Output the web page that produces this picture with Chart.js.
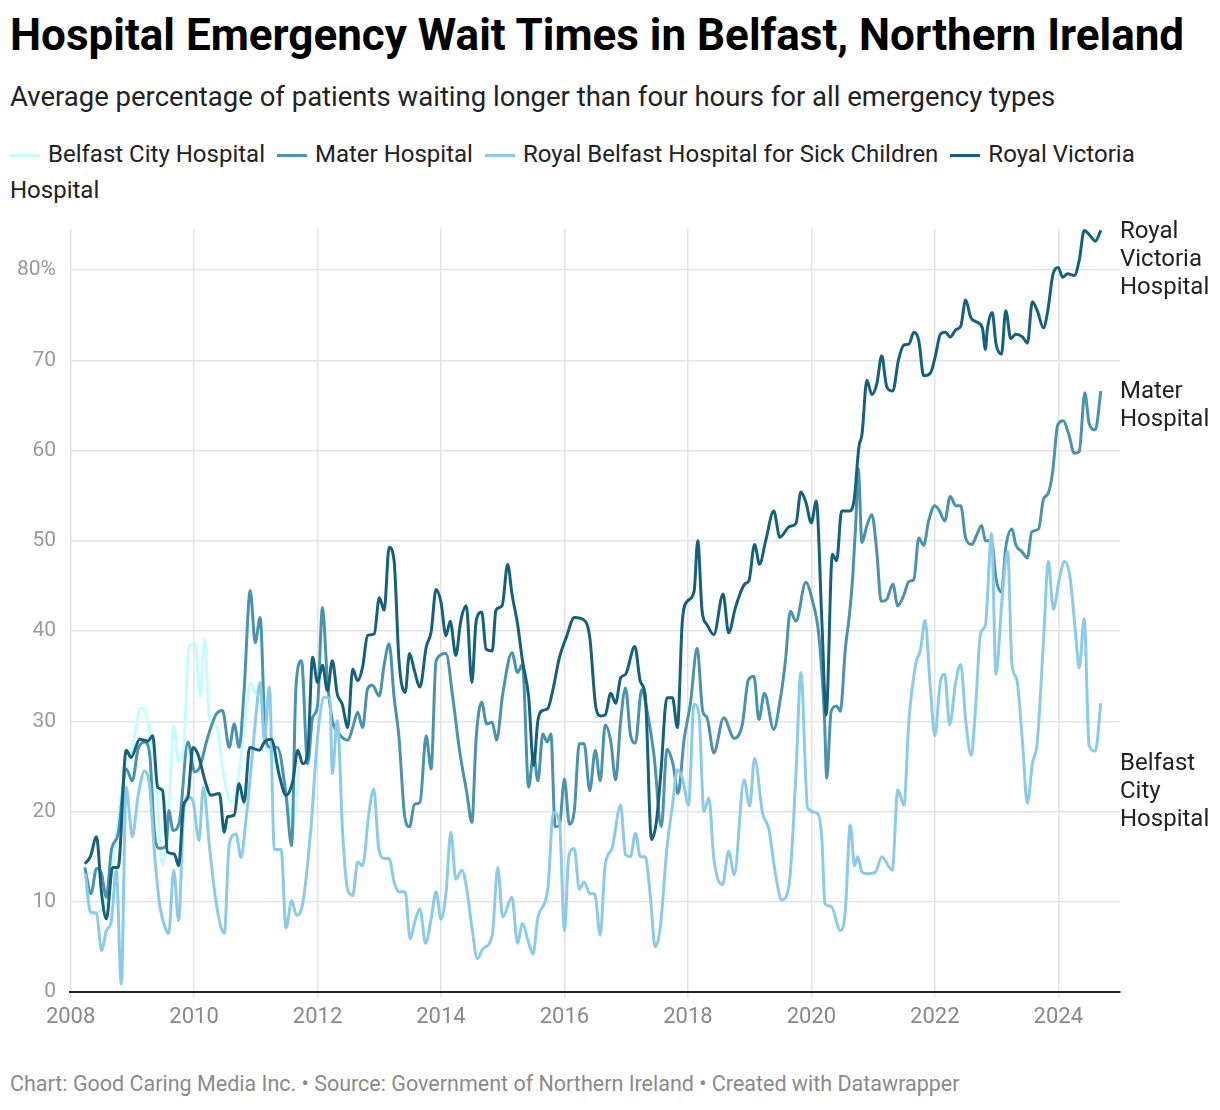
<!DOCTYPE html>
<html><head><meta charset="utf-8">
<script src="https://cdn.jsdelivr.net/npm/chart.js@4/dist/chart.umd.min.js"></script>
<style>
body{margin:0;background:#fff;font-family:Roboto,sans-serif;width:1220px;height:1110px;position:relative;overflow:hidden}
#title{position:absolute;left:10px;top:9px;font-size:44px;font-weight:700;color:#000}
#sub{position:absolute;left:10px;top:80px;font-size:27.5px;color:#222}
#legend{position:absolute;left:10px;top:136px;width:1180px;font-size:24px;color:#222;line-height:36px}
#legend span.item{margin-right:12px;white-space:nowrap}
#legend span.sw{display:inline-block;width:30px;height:3px;vertical-align:middle;margin-right:8px}
.rl{position:absolute;left:1120px;font-size:24px;line-height:28px;color:#222}
#foot{position:absolute;left:10px;top:1071px;font-size:21.5px;color:#8a8a8a}
#wrap{position:absolute;left:0;top:202px;width:1220px;height:838px}
</style></head><body>
<div id="title">Hospital Emergency Wait Times in Belfast, Northern Ireland</div>
<div id="sub">Average percentage of patients waiting longer than four hours for all emergency types</div>
<div id="legend"></div>
<div id="wrap"><canvas id="c"></canvas></div>
<div class="rl" style="top:216px">Royal<br>Victoria<br>Hospital</div>
<div class="rl" style="top:376px">Mater<br>Hospital</div>
<div class="rl" style="top:748px">Belfast<br>City<br>Hospital</div>
<div id="foot">Chart: Good Caring Media Inc. • Source: Government of Northern Ireland • Created with Datawrapper</div>
<script>
const seriesNames=["Belfast City Hospital","Mater Hospital","Royal Belfast Hospital for Sick Children","Royal Victoria Hospital"];
const seriesColors=["#c4fcff","#4b92ad","#8ccbe8","#15607a"];
const yearTicks=[2008,2010,2012,2014,2016,2018,2020,2022,2024];
const valueTicks=[0,10,20,30,40,50,60,70,80];

const belfastCity=[[2008.24,13],[2008.33,8.5],[2008.42,8.8],[2008.55,9.5],[2008.7,15],[2008.82,22],[2008.9,25],[2009.0,27],[2009.14,31.5],[2009.25,30.1],[2009.39,23.1],[2009.49,14],[2009.59,20.1],[2009.67,29.5],[2009.75,25.5],[2009.83,27],[2009.92,38.3],[2010.02,38.6],[2010.1,32.7],[2010.17,39.1],[2010.25,30.2],[2010.36,29.5],[2010.48,24],[2010.6,21],[2010.7,23],[2010.84,31],[2010.92,34.3],[2011.0,33],[2011.06,34.1],[2011.14,27.9],[2011.22,26.4],[2011.43,24.2],[2011.55,20.1],[2011.6,18.3],[2011.65,20.5],[2011.7,25]];

const mater=[[2008.23,13.8],[2008.33,10.9],[2008.42,13.7],[2008.5,13.1],[2008.58,10.5],[2008.66,15.7],[2008.77,17.5],[2008.9,24.7],[2009.0,23.4],[2009.09,26.8],[2009.2,27.7],[2009.28,26.4],[2009.36,17.5],[2009.44,15.9],[2009.55,16.2],[2009.59,20.1],[2009.66,17.9],[2009.76,18.8],[2009.9,27.7],[2010.01,24.4],[2010.09,24.9],[2010.22,28.2],[2010.36,30.8],[2010.46,31.2],[2010.57,27.1],[2010.65,29.7],[2010.73,27.1],[2010.81,33.4],[2010.91,44.5],[2010.99,38.7],[2011.07,41.5],[2011.16,27.9],[2011.25,27.1],[2011.35,27.1],[2011.49,21.8],[2011.58,16.2],[2011.65,33.8],[2011.74,36.7],[2011.84,25.3],[2011.92,30.4],[2012.0,31.7],[2012.08,42.6],[2012.16,34.5],[2012.24,30.1],[2012.35,28.6],[2012.49,27.9],[2012.57,29.3],[2012.65,31],[2012.73,29.3],[2012.81,33.6],[2012.89,34],[2013.0,32.8],[2013.08,36.3],[2013.16,38.6],[2013.24,32.7],[2013.32,28.2],[2013.41,19.6],[2013.49,18.3],[2013.57,20.8],[2013.66,21],[2013.76,28.4],[2013.84,24.7],[2013.92,36.7],[2014.08,37.5],[2014.19,32.7],[2014.3,26.8],[2014.42,22],[2014.5,18.8],[2014.57,28.2],[2014.66,32.1],[2014.74,29.7],[2014.83,29.9],[2014.9,27.9],[2015.0,33],[2015.15,37.6],[2015.24,35.4],[2015.32,36.3],[2015.42,22.7],[2015.5,26.4],[2015.57,23.4],[2015.65,28.6],[2015.72,27.7],[2015.78,28.6],[2015.85,18.3],[2015.92,18.5],[2016.0,23.6],[2016.08,18.6],[2016.16,20.1],[2016.24,27.5],[2016.32,27.5],[2016.41,22.3],[2016.5,26.8],[2016.58,23.4],[2016.66,29.6],[2016.75,27.8],[2016.83,23.5],[2016.91,30],[2016.99,33.7],[2017.07,28.5],[2017.15,27.6],[2017.25,33.5],[2017.34,31.1],[2017.45,26.3],[2017.57,18.3],[2017.66,26.9],[2017.76,25.2],[2017.84,22],[2017.94,28.1],[2018.04,31.9],[2018.15,38.1],[2018.24,31.1],[2018.31,30.4],[2018.42,26.5],[2018.58,30.4],[2018.75,28.1],[2018.88,29.6],[2018.98,34.6],[2019.07,35],[2019.15,30.2],[2019.24,33.1],[2019.39,29.1],[2019.5,32.6],[2019.58,36.7],[2019.66,42.2],[2019.75,41.1],[2019.91,45.4],[2020.02,43.3],[2020.12,39.6],[2020.21,30.7],[2020.25,23.7],[2020.32,31.1],[2020.41,31.7],[2020.47,31.1],[2020.55,38],[2020.62,42],[2020.67,46],[2020.72,52],[2020.76,58],[2020.82,49.8],[2020.9,51.7],[2020.98,52.9],[2021.06,48.8],[2021.13,43.3],[2021.22,43.5],[2021.32,45.2],[2021.4,42.8],[2021.5,44],[2021.58,45.5],[2021.66,45.7],[2021.74,50.3],[2021.82,49.5],[2021.9,52.2],[2022.0,53.9],[2022.07,53.4],[2022.16,52.2],[2022.25,54.9],[2022.34,53.9],[2022.42,53.9],[2022.5,50.3],[2022.6,49.6],[2022.67,50.5],[2022.76,51.7],[2022.82,50],[2022.92,50],[2022.99,45.9],[2023.08,44.3],[2023.15,49.3],[2023.25,51.3],[2023.31,49.6],[2023.41,48.8],[2023.5,48.1],[2023.57,51],[2023.68,51.3],[2023.76,54.6],[2023.84,55.3],[2023.91,57.7],[2023.99,62.8],[2024.08,63.3],[2024.17,61.8],[2024.26,59.7],[2024.34,59.9],[2024.43,66.4],[2024.5,63],[2024.6,62.3],[2024.69,66.6]];

const sickChildren=[[2008.24,13.1],[2008.32,8.9],[2008.42,8.7],[2008.5,4.6],[2008.58,6.8],[2008.66,7.9],[2008.74,13.5],[2008.82,0.9],[2008.9,22.7],[2009.0,17.2],[2009.09,21.6],[2009.2,24.5],[2009.28,22.7],[2009.36,15.3],[2009.44,9.8],[2009.55,6.8],[2009.59,6.5],[2009.67,13.5],[2009.75,7.9],[2009.83,19.8],[2009.9,21.6],[2009.98,21.2],[2010.08,16.8],[2010.15,22.7],[2010.25,16.1],[2010.36,9.8],[2010.49,6.5],[2010.57,16.4],[2010.68,17.5],[2010.76,14.9],[2010.84,19],[2010.92,24.5],[2011.0,30.4],[2011.07,34.3],[2011.14,27.9],[2011.22,33.8],[2011.3,15.8],[2011.41,15.8],[2011.49,7.1],[2011.58,10.1],[2011.66,8.5],[2011.76,9.8],[2011.89,17.9],[2012.0,28.2],[2012.11,32.7],[2012.2,32.5],[2012.24,24.2],[2012.32,30.1],[2012.41,17.2],[2012.49,11.3],[2012.57,10.7],[2012.65,14.4],[2012.73,14],[2012.83,19.7],[2012.91,22.5],[2012.99,16],[2013.08,14.8],[2013.16,14.8],[2013.24,12.2],[2013.32,11.1],[2013.42,11.1],[2013.5,5.9],[2013.58,7.9],[2013.66,9.2],[2013.75,5.4],[2013.84,8.1],[2013.92,11.1],[2014.0,8.1],[2014.08,10.9],[2014.16,17.7],[2014.24,12.5],[2014.34,13.5],[2014.42,11.3],[2014.5,7.2],[2014.59,3.7],[2014.68,4.8],[2014.83,6.3],[2014.92,13.8],[2015.0,8.3],[2015.15,10.5],[2015.24,5.4],[2015.32,7.6],[2015.41,5.7],[2015.49,4.2],[2015.57,8.3],[2015.73,11.4],[2015.82,19.9],[2015.92,18.8],[2016.0,6.8],[2016.07,15],[2016.16,15.9],[2016.24,11.4],[2016.32,12.2],[2016.41,10.9],[2016.49,10.9],[2016.58,6.3],[2016.66,14.1],[2016.77,15.9],[2016.91,20.7],[2016.99,15.2],[2017.07,15],[2017.15,17.6],[2017.23,15],[2017.31,15],[2017.39,10.7],[2017.47,5],[2017.55,7],[2017.66,15.9],[2017.75,20.7],[2017.83,24.6],[2017.91,23.7],[2018.01,20.7],[2018.1,31.9],[2018.18,30.7],[2018.26,20],[2018.34,21.5],[2018.42,14.8],[2018.56,11.9],[2018.66,15.6],[2018.75,13],[2018.91,23.5],[2019.0,20.6],[2019.08,25.9],[2019.21,19.8],[2019.31,18.1],[2019.42,13],[2019.52,10.2],[2019.64,11.9],[2019.75,24.1],[2019.83,35.4],[2019.94,20.4],[2020.1,19.8],[2020.17,17],[2020.22,9.8],[2020.32,9.5],[2020.47,6.8],[2020.55,9],[2020.63,18.5],[2020.7,14],[2020.75,15],[2020.82,13.3],[2020.9,13.1],[2021.04,13.3],[2021.14,15],[2021.31,13.5],[2021.4,22.4],[2021.5,20.7],[2021.58,30.1],[2021.69,36.3],[2021.77,38],[2021.84,41.2],[2021.93,33.5],[2022.0,28.4],[2022.09,34.4],[2022.16,35.2],[2022.24,29.6],[2022.34,34.4],[2022.42,36.3],[2022.5,30.1],[2022.59,26.2],[2022.66,31.5],[2022.74,39.7],[2022.82,40.7],[2022.92,50.8],[2022.99,35.2],[2023.09,43.6],[2023.18,48.8],[2023.25,36.3],[2023.33,34.6],[2023.42,27.7],[2023.5,20.9],[2023.58,25.3],[2023.66,27.7],[2023.76,38.8],[2023.84,47.7],[2023.92,42.4],[2024.01,45.5],[2024.1,47.7],[2024.19,46],[2024.28,39.7],[2024.34,35.9],[2024.42,41.4],[2024.5,27.3],[2024.6,26.7],[2024.69,32]];

const royalVictoria=[[2008.23,14.2],[2008.32,15],[2008.42,17.2],[2008.5,11],[2008.58,8.1],[2008.68,13.8],[2008.77,13.8],[2008.9,26.8],[2008.98,26],[2009.12,28],[2009.25,27.8],[2009.33,28.4],[2009.41,22.7],[2009.49,22.3],[2009.57,15.5],[2009.68,15.3],[2009.75,14],[2009.83,20.7],[2009.9,21.6],[2009.98,27.1],[2010.06,26.4],[2010.19,23.1],[2010.27,21.8],[2010.41,22],[2010.49,17.7],[2010.54,19.4],[2010.65,19.6],[2010.73,23.1],[2010.81,21],[2010.9,27.1],[2011.06,26.8],[2011.14,27.7],[2011.25,28],[2011.38,24],[2011.49,21.8],[2011.6,23.4],[2011.68,26.8],[2011.76,25.3],[2011.84,26.4],[2011.92,37.1],[2012.0,34.3],[2012.08,36.2],[2012.16,33.4],[2012.24,36.7],[2012.32,33],[2012.4,31.9],[2012.49,29.3],[2012.57,35.8],[2012.65,34.5],[2012.73,36],[2012.81,39.5],[2012.92,39.7],[2013.0,43.7],[2013.08,42.3],[2013.16,49.3],[2013.24,47.8],[2013.32,36.7],[2013.42,33.2],[2013.49,37.5],[2013.57,35.6],[2013.66,33.8],[2013.76,38.2],[2013.84,39.9],[2013.92,44.6],[2014.0,43.2],[2014.08,39.5],[2014.15,41.1],[2014.24,37.3],[2014.32,41.1],[2014.41,42.8],[2014.5,34.3],[2014.57,41.1],[2014.66,42.1],[2014.73,38],[2014.83,37.8],[2014.89,42.3],[2014.99,42.8],[2015.08,47.4],[2015.15,44.1],[2015.24,40.8],[2015.32,36.7],[2015.42,32.7],[2015.5,25.1],[2015.57,30.1],[2015.65,31.2],[2015.73,31.4],[2015.81,33.4],[2015.92,37.1],[2016.03,39.3],[2016.16,41.5],[2016.3,41.3],[2016.41,39.3],[2016.51,31.5],[2016.59,30.6],[2016.66,30.7],[2016.75,33.1],[2016.83,32],[2016.91,34.8],[2016.99,35.2],[2017.14,38.3],[2017.23,34.4],[2017.31,32.8],[2017.41,16.9],[2017.49,18.9],[2017.56,24.1],[2017.66,32.6],[2017.75,32.6],[2017.83,29.3],[2017.91,41.1],[2017.99,43.3],[2018.1,44.4],[2018.16,50],[2018.23,42.2],[2018.31,40.7],[2018.42,39.6],[2018.57,44.1],[2018.66,39.8],[2018.77,42.6],[2018.92,45.2],[2018.99,45.6],[2019.08,49.6],[2019.16,47.4],[2019.26,50],[2019.39,53.3],[2019.49,50.4],[2019.65,51.6],[2019.75,51.9],[2019.83,55.4],[2019.91,54.3],[2020.0,52],[2020.08,54.4],[2020.17,41.1],[2020.24,30.7],[2020.34,48.5],[2020.41,47.8],[2020.49,53.3],[2020.61,53.3],[2020.69,54.4],[2020.77,60.4],[2020.82,61.8],[2020.9,67.8],[2020.98,66.2],[2021.06,67.4],[2021.14,70.5],[2021.22,67.1],[2021.32,66.6],[2021.41,70],[2021.5,71.7],[2021.58,71.8],[2021.66,73.1],[2021.74,72.2],[2021.82,68.3],[2021.93,68.6],[2022.01,70.5],[2022.09,72.9],[2022.17,73.1],[2022.25,72.6],[2022.34,73.4],[2022.42,73.8],[2022.5,76.7],[2022.58,74.8],[2022.66,74.3],[2022.77,73.6],[2022.82,71.2],[2022.85,73.4],[2022.93,75.3],[2022.99,71.9],[2023.08,70.7],[2023.15,75.5],[2023.23,72.4],[2023.31,72.9],[2023.42,72.6],[2023.5,71.9],[2023.58,76.5],[2023.66,75.5],[2023.76,73.6],[2023.83,75.5],[2023.91,79.4],[2024.0,80.3],[2024.07,79.2],[2024.15,79.6],[2024.26,79.4],[2024.34,81.1],[2024.42,84.4],[2024.53,83.7],[2024.6,83.2],[2024.69,84.4]];

const allSeries=[belfastCity,mater,sickChildren,royalVictoria];
const lg=document.getElementById('legend');
seriesNames.forEach((n,i)=>{
  const ws=(i===3)?'white-space:normal':'';
  lg.innerHTML+=`<span class="item" style="${ws}"><span class="sw" style="background:${seriesColors[i]}"></span>${n}</span>`;
});

const datasets=allSeries.map((s,i)=>({label:seriesNames[i],data:s.map(p=>({x:p[0],y:p[1]})),borderColor:seriesColors[i],borderWidth:3,pointRadius:0,cubicInterpolationMode:'monotone',fill:false}));
datasets.reverse();

new Chart(document.getElementById('c'),{
  type:'line',
  data:{datasets},
  options:{
    responsive:true,maintainAspectRatio:false,animation:false,
    layout:{padding:{left:0,right:100,top:8,bottom:0}},
    plugins:{legend:{display:false},tooltip:{enabled:false}},
    scales:{
      x:{type:'linear',min:2007.99,max:2025,
        afterBuildTicks:s=>{s.ticks=yearTicks.map(v=>({value:v}));},
        afterFit:s=>{s.height=48;},
        ticks:{color:'#888',font:{family:'Roboto',size:22},padding:6,callback:v=>String(v)},
        grid:{color:'#e3e3e3',lineWidth:1.5,drawTicks:true,tickLength:6},
        border:{color:'#222',width:2}
      },
      y:{min:0,max:84.6,
        afterBuildTicks:s=>{s.ticks=valueTicks.map(v=>({value:v}));},
        afterFit:s=>{s.width=70;},
        ticks:{color:'#999',font:{family:'Roboto',size:21},padding:14,callback:v=>v===80?'80%':String(v)},
        grid:{color:'#e3e3e3',lineWidth:1.5,drawTicks:false},
        border:{display:false}
      }
    }
  }
});
</script>
</body></html>
